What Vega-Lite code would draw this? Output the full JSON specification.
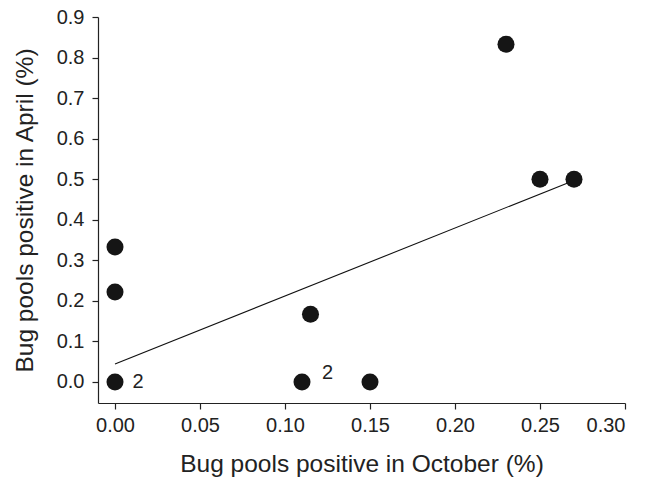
{
  "$schema": "https://vega.github.io/schema/vega-lite/v6.json",
  "width": 527,
  "height": 386,
  "autosize": {"type": "none"},
  "padding": {"left": 98, "top": 17, "right": 33, "bottom": 78},
  "background": "white",
  "config": {
    "view": {"stroke": null},
    "font": "Liberation Sans",
    "axis": {
      "grid": false,
      "domainColor": "#222",
      "tickColor": "#222",
      "labelColor": "#222",
      "titleColor": "#222",
      "labelFont": "Liberation Sans",
      "titleFont": "Liberation Sans",
      "labelFontSize": 20,
      "titleFontSize": 24.5,
      "titleFontWeight": "normal",
      "tickSize": 6,
      "domainWidth": 1.2,
      "tickWidth": 1.2
    }
  },
  "datasets": {
    "points": [
      {"oct": 0, "apr": 0.333},
      {"oct": 0, "apr": 0.222},
      {"oct": 0, "apr": 0},
      {"oct": 0.11, "apr": 0},
      {"oct": 0.115, "apr": 0.167},
      {"oct": 0.15, "apr": 0},
      {"oct": 0.23, "apr": 0.833},
      {"oct": 0.25, "apr": 0.5},
      {"oct": 0.27, "apr": 0.5}
    ],
    "fit": [
      {"oct": 0, "apr": 0.044},
      {"oct": 0.27, "apr": 0.497}
    ],
    "labels": [
      {"oct": 0.0135, "apr": 0, "label": "2"},
      {"oct": 0.125, "apr": 0.022, "label": "2"}
    ]
  },
  "layer": [
    {
      "data": {"name": "fit"},
      "mark": {"type": "line", "color": "#111", "strokeWidth": 1.1},
      "encoding": {
        "x": {
          "field": "oct", "type": "quantitative",
          "scale": {"domain": [-0.01, 0.3], "nice": false, "zero": false},
          "axis": {
            "title": "Bug pools positive in October (%)",
            "values": [0, 0.05, 0.1, 0.15, 0.2, 0.25, 0.3],
            "format": ".2f",
            "labelPadding": 6,
            "titlePadding": 17
          }
        },
        "y": {
          "field": "apr", "type": "quantitative",
          "scale": {"domain": [-0.052, 0.9], "nice": false, "zero": false},
          "axis": {
            "title": "Bug pools positive in April (%)",
            "values": [0, 0.1, 0.2, 0.3, 0.4, 0.5, 0.6, 0.7, 0.8, 0.9],
            "format": ".1f",
            "labelPadding": 8,
            "titlePadding": 19
          }
        }
      }
    },
    {
      "data": {"name": "points"},
      "mark": {"type": "circle", "size": 290, "color": "#151515", "opacity": 1},
      "encoding": {
        "x": {"field": "oct", "type": "quantitative"},
        "y": {"field": "apr", "type": "quantitative"}
      }
    },
    {
      "data": {"name": "labels"},
      "mark": {"type": "text", "fontSize": 20, "color": "#222", "font": "Liberation Sans"},
      "encoding": {
        "x": {"field": "oct", "type": "quantitative"},
        "y": {"field": "apr", "type": "quantitative"},
        "text": {"field": "label"}
      }
    }
  ]
}
